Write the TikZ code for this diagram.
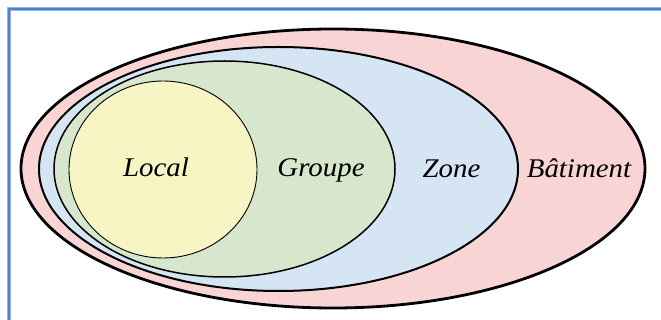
\documentclass[tikz,border=0pt]{standalone}
\usepackage{fontspec}
\setmainfont{Liberation Serif}
\definecolor{framebl}{HTML}{4F80CF}
\definecolor{batfill}{HTML}{F9D4D5}
\definecolor{zonefill}{HTML}{D5E5F4}
\definecolor{grpfill}{HTML}{D7E7CD}
\definecolor{locfill}{HTML}{F8F5C5}
\tikzset{
  lbl/.style={font=\fontsize{27}{30}\selectfont\itshape, text=black, inner sep=0pt, xscale=1.07},
  setline/.style={draw=black}
}
\begin{document}
\begin{tikzpicture}[x=1pt,y=-1pt]
\useasboundingbox (0,0) rectangle (661,320);
\fill[white] (0,0) rectangle (661,320);
% sheet frame
\begin{scope}
\clip (0,0) rectangle (661,320);
\draw[framebl!60, line width=3.2pt] (9,9) rectangle (680,340);
\draw[framebl, line width=1.8pt] (9,9) rectangle (680,340);
\end{scope}
% nested sets, outermost first
\draw[setline, fill=batfill, line width=2.8pt] (333,168.5) ellipse [x radius=312, y radius=139.5];
\draw[setline, fill=zonefill, line width=2pt] (278.5,169) ellipse [x radius=239.5, y radius=122];
\draw[setline, fill=grpfill, line width=1.5pt] (224.5,169) ellipse [x radius=170.5, y radius=108];
\draw[setline, fill=locfill, line width=0.9pt] (163,169.5) ellipse [x radius=94, y radius=88.5];
% labels
\node[lbl, anchor=base] (local) at (156,177) {Local};
\node[lbl, anchor=base] (groupe) at (321,177) {Groupe};
\node[lbl, anchor=base] (zone) at (451.5,178) {Zone};
\node[lbl, anchor=base] (batiment) at (579,178) {Bâtiment};
\end{tikzpicture}
\end{document}
